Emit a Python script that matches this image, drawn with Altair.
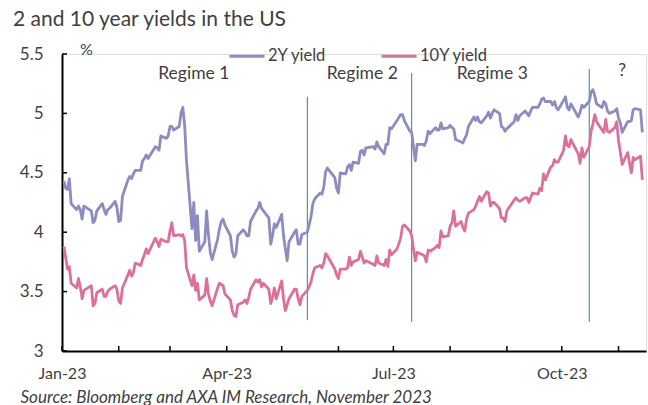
import altair as alt
import pandas as pd

# US Treasury yields, business days 2 Jan - 14 Nov 2023 (%)
y2_jan = [4.43, 4.37, 4.36, 4.45, 4.24, 4.19, 4.22, 4.19, 4.11, 4.22, 4.18, 4.08, 4.10, 4.18, 4.24, 4.19, 4.15, 4.19, 4.20, 4.26, 4.21]
y2_feb = [4.09, 4.10, 4.30, 4.44, 4.47, 4.45, 4.49, 4.52, 4.52, 4.60, 4.62, 4.65, 4.62, 4.72, 4.71, 4.69, 4.81, 4.79, 4.81]
y2_mar = [4.89, 4.89, 4.86, 4.89, 5.00, 5.05, 4.90, 4.60, 4.03, 4.25, 3.93, 4.14, 3.84, 3.92, 4.18, 3.98, 3.83, 3.77, 3.94, 4.03, 4.09, 4.11, 4.06]
y2_apr = [3.97, 3.84, 3.79, 3.82, 3.97, 4.02, 4.00, 3.97, 3.97, 4.09, 4.18, 4.20, 4.25, 4.20, 4.18, 4.12, 3.90, 3.97, 4.07, 4.04]
y2_may = [4.15, 3.97, 3.86, 3.76, 3.92, 4.00, 4.02, 3.90, 3.90, 3.98, 4.00, 4.06, 4.13, 4.24, 4.28, 4.33, 4.32, 4.38, 4.51, 4.54, 4.46, 4.37]
y2_jun = [4.33, 4.50, 4.49, 4.55, 4.57, 4.52, 4.59, 4.58, 4.68, 4.69, 4.65, 4.71, 4.72, 4.70, 4.76, 4.72, 4.66, 4.74, 4.74, 4.88, 4.87]
y2_jul = [4.94, 4.99, 4.99, 4.94, 4.85, 4.84, 4.72, 4.60, 4.74, 4.74, 4.73, 4.77, 4.85, 4.83, 4.88, 4.86, 4.86, 4.92, 4.87, 4.88]
y2_aug = [4.90, 4.88, 4.87, 4.78, 4.76, 4.75, 4.79, 4.82, 4.89, 4.97, 4.94, 4.97, 4.93, 4.92, 4.98, 5.01, 4.96, 5.00, 5.03, 5.00, 4.89, 4.88, 4.85]
y2_sep = [4.87, 4.93, 4.99, 4.94, 4.98, 5.02, 5.00, 4.98, 5.02, 5.05, 5.05, 5.08, 5.12, 5.13, 5.10, 5.10, 5.07, 5.10, 5.05, 5.03]
y2_oct = [5.11, 5.14, 5.05, 5.03, 5.08, 4.97, 5.01, 5.07, 5.05, 5.10, 5.18, 5.20, 5.15, 5.08, 5.05, 5.10, 5.08, 5.02, 5.00, 5.02, 5.04]
y2_nov = [4.96, 4.92, 4.84, 4.93, 4.93, 4.94, 5.03, 5.04, 5.03, 4.84]

y10_jan = [3.88, 3.79, 3.69, 3.71, 3.57, 3.53, 3.61, 3.54, 3.44, 3.51, 3.55, 3.38, 3.40, 3.49, 3.52, 3.46, 3.46, 3.50, 3.52, 3.55, 3.52]
y10_feb = [3.42, 3.40, 3.53, 3.64, 3.68, 3.63, 3.66, 3.74, 3.72, 3.77, 3.81, 3.86, 3.82, 3.95, 3.92, 3.88, 3.94, 3.92, 3.92]
y10_mar = [4.01, 4.08, 3.97, 3.98, 3.97, 3.98, 3.93, 3.70, 3.55, 3.64, 3.51, 3.57, 3.43, 3.47, 3.61, 3.48, 3.42, 3.38, 3.53, 3.57, 3.56, 3.55, 3.48]
y10_apr = [3.43, 3.34, 3.30, 3.29, 3.39, 3.41, 3.43, 3.40, 3.45, 3.52, 3.60, 3.58, 3.60, 3.54, 3.57, 3.52, 3.40, 3.45, 3.53, 3.44]
y10_may = [3.59, 3.44, 3.34, 3.39, 3.44, 3.52, 3.52, 3.44, 3.39, 3.46, 3.51, 3.54, 3.58, 3.65, 3.70, 3.72, 3.70, 3.74, 3.82, 3.80, 3.69, 3.64]
y10_jun = [3.61, 3.69, 3.69, 3.70, 3.79, 3.72, 3.75, 3.77, 3.84, 3.79, 3.74, 3.76, 3.73, 3.72, 3.80, 3.74, 3.72, 3.77, 3.71, 3.85, 3.81]
y10_jul = [3.86, 3.95, 4.05, 4.06, 4.01, 3.97, 3.86, 3.76, 3.83, 3.81, 3.80, 3.75, 3.85, 3.84, 3.87, 3.89, 3.87, 4.01, 3.96, 3.97]
y10_aug = [4.05, 4.08, 4.18, 4.05, 4.09, 4.04, 4.01, 4.11, 4.16, 4.19, 4.22, 4.26, 4.30, 4.26, 4.34, 4.33, 4.22, 4.25, 4.25, 4.20, 4.12, 4.12, 4.09]
y10_sep = [4.18, 4.27, 4.29, 4.27, 4.26, 4.29, 4.29, 4.25, 4.29, 4.33, 4.32, 4.37, 4.35, 4.49, 4.44, 4.55, 4.56, 4.61, 4.59, 4.59]
y10_oct = [4.69, 4.81, 4.73, 4.72, 4.78, 4.66, 4.58, 4.71, 4.63, 4.72, 4.85, 4.91, 4.99, 4.93, 4.86, 4.84, 4.95, 4.85, 4.84, 4.88, 4.93]
y10_nov = [4.77, 4.67, 4.57, 4.67, 4.58, 4.50, 4.63, 4.61, 4.64, 4.44]

# Market holidays with no print
holidays = ["2023-01-16", "2023-02-20", "2023-05-29", "2023-06-19", "2023-07-04", "2023-09-04", "2023-10-09"]

# Regime boundaries and labels
regime_dates = ["2023-05-15", "2023-07-11", "2023-10-16"]
regime_top = [5.14, 5.34, 5.375]
regime_bottom = [3.26, 3.245, 3.245]
label_texts = ["Regime 1", "Regime 2", "Regime 3", "?"]
label_dates = ["2023-03-14", "2023-06-14", "2023-08-24", "2023-11-03"]
label_level = [5.33, 5.33, 5.33, 5.36]

series_names = ["2Y yield", "10Y yield"]
series_colors = ["#8D8CC1", "#DB7098"]

y_ticks = [3, 3.5, 4, 4.5, 5, 5.5]
x_tick_months = pd.date_range("2023-01-01", "2023-11-01", freq="MS")
x_label_months = ["2023-01-01", "2023-04-01", "2023-07-01", "2023-10-01"]

FONT = "Lato"
TXT = "#404040"

days = pd.bdate_range("2023-01-02", "2023-11-14")
days = days[~days.isin(pd.to_datetime(holidays))]
y2 = y2_jan + y2_feb + y2_mar + y2_apr + y2_may + y2_jun + y2_jul + y2_aug + y2_sep + y2_oct + y2_nov
y10 = y10_jan + y10_feb + y10_mar + y10_apr + y10_may + y10_jun + y10_jul + y10_aug + y10_sep + y10_oct + y10_nov
assert len(days) == len(y2) == len(y10)

stamp = [d.strftime("%Y-%m-%dT00:00:00") for d in days]
df = pd.concat([
    pd.DataFrame({"date": stamp, "value": y2, "series": series_names[0]}),
    pd.DataFrame({"date": stamp, "value": y10, "series": series_names[1]}),
])

W, H = 584, 297
x_scale = alt.Scale(domain=[alt.DateTime(year=2023, month=1, date=1),
                            alt.DateTime(year=2023, month=11, date=16)], nice=False)
y_scale = alt.Scale(domain=[3, 5.5], nice=False, zero=False)

x_axis = alt.Axis(
    values=[alt.DateTime(year=int(s[:4]), month=int(s[5:7]), date=1) for s in x_label_months],
    format="%b-%y", labelFont=FONT, labelFontSize=16, labelColor=TXT,
    tickSize=0, labelPadding=14, domainColor="#000000", domainWidth=2, grid=False,
    title="Source: Bloomberg and AXA IM Research, November 2023",
    titleFont=FONT, titleFontSize=17, titleFontStyle="italic", titleFontWeight="normal",
    titleColor=TXT, titleAnchor="start", titleAlign="left", titleBaseline="middle",
    titleX=-42, titleY=46, labelFlush=False,
)
y_axis = alt.Axis(
    values=y_ticks, format="~g", labelFont=FONT, labelFontSize=17, labelColor=TXT,
    tickSize=0, labelPadding=19, domainColor="#000000", domainWidth=2, grid=False,
    title="%", titleAngle=0, titleFont=FONT, titleFontSize=16, titleFontWeight="normal",
    titleColor=TXT, titleX=24, titleY=-5, titleAlign="center", titleBaseline="middle",
)

lines = alt.Chart(df).mark_line(strokeWidth=2.8, strokeJoin="round").encode(
    x=alt.X("date:T", scale=x_scale, axis=x_axis),
    y=alt.Y("value:Q", scale=y_scale, axis=y_axis),
    color=alt.Color("series:N", sort=series_names,
                    scale=alt.Scale(domain=series_names, range=series_colors),
                    legend=alt.Legend(
                        title=None, orient="none", legendX=166, legendY=-17,
                        direction="horizontal", symbolType="stroke", symbolSize=1225,
                        symbolStrokeWidth=3, labelFont=FONT, labelFontSize=16.5,
                        labelColor=TXT, labelOffset=2, columnPadding=48, padding=0)),
    detail="series:N",
)

reg_df = pd.DataFrame({"date": [d + "T00:00:00" for d in regime_dates],
                       "top": regime_top, "bottom": regime_bottom})
regime_rules = alt.Chart(reg_df).mark_rule(color="#2B8294", strokeWidth=1).encode(
    x="date:T", y="top:Q", y2="bottom:Q")

lab_df = pd.DataFrame({"date": [d + "T00:00:00" for d in label_dates],
                       "level": label_level, "text": label_texts})
labels = alt.Chart(lab_df).mark_text(font=FONT, fontSize=17.5, color=TXT,
                                     align="center", baseline="middle").encode(
    x="date:T", y="level:Q", text="text:N")

ytick_df = pd.DataFrame({"v": y_ticks})
y_tick_marks = alt.Chart(ytick_df).mark_rule(color="#000000", strokeWidth=1.5).encode(
    y="v:Q", x=alt.value(0), x2=alt.value(5))

xtick_df = pd.DataFrame({"d": [d.strftime("%Y-%m-%dT00:00:00") for d in x_tick_months]})
x_tick_marks = alt.Chart(xtick_df).mark_rule(color="#000000", strokeWidth=1.5).encode(
    x="d:T", y=alt.value(H), y2=alt.value(H - 5))

chart = alt.layer(regime_rules, lines, labels, y_tick_marks, x_tick_marks).properties(
    width=W, height=H,
    title=alt.TitleParams("2 and 10 year yields in the US", anchor="start", frame="group",
                          font=FONT, fontSize=21, fontWeight="normal", color=TXT,
                          dx=-49, offset=0, baseline="alphabetic", dy=10),
    autosize=alt.AutoSizeParams(type="none"),
    padding={"left": 62, "top": 54, "right": 2, "bottom": 54},
).configure_view(stroke=None).configure(background="white")

chart.save("out.html", embed_options={"renderer": "svg", "actions": False})
